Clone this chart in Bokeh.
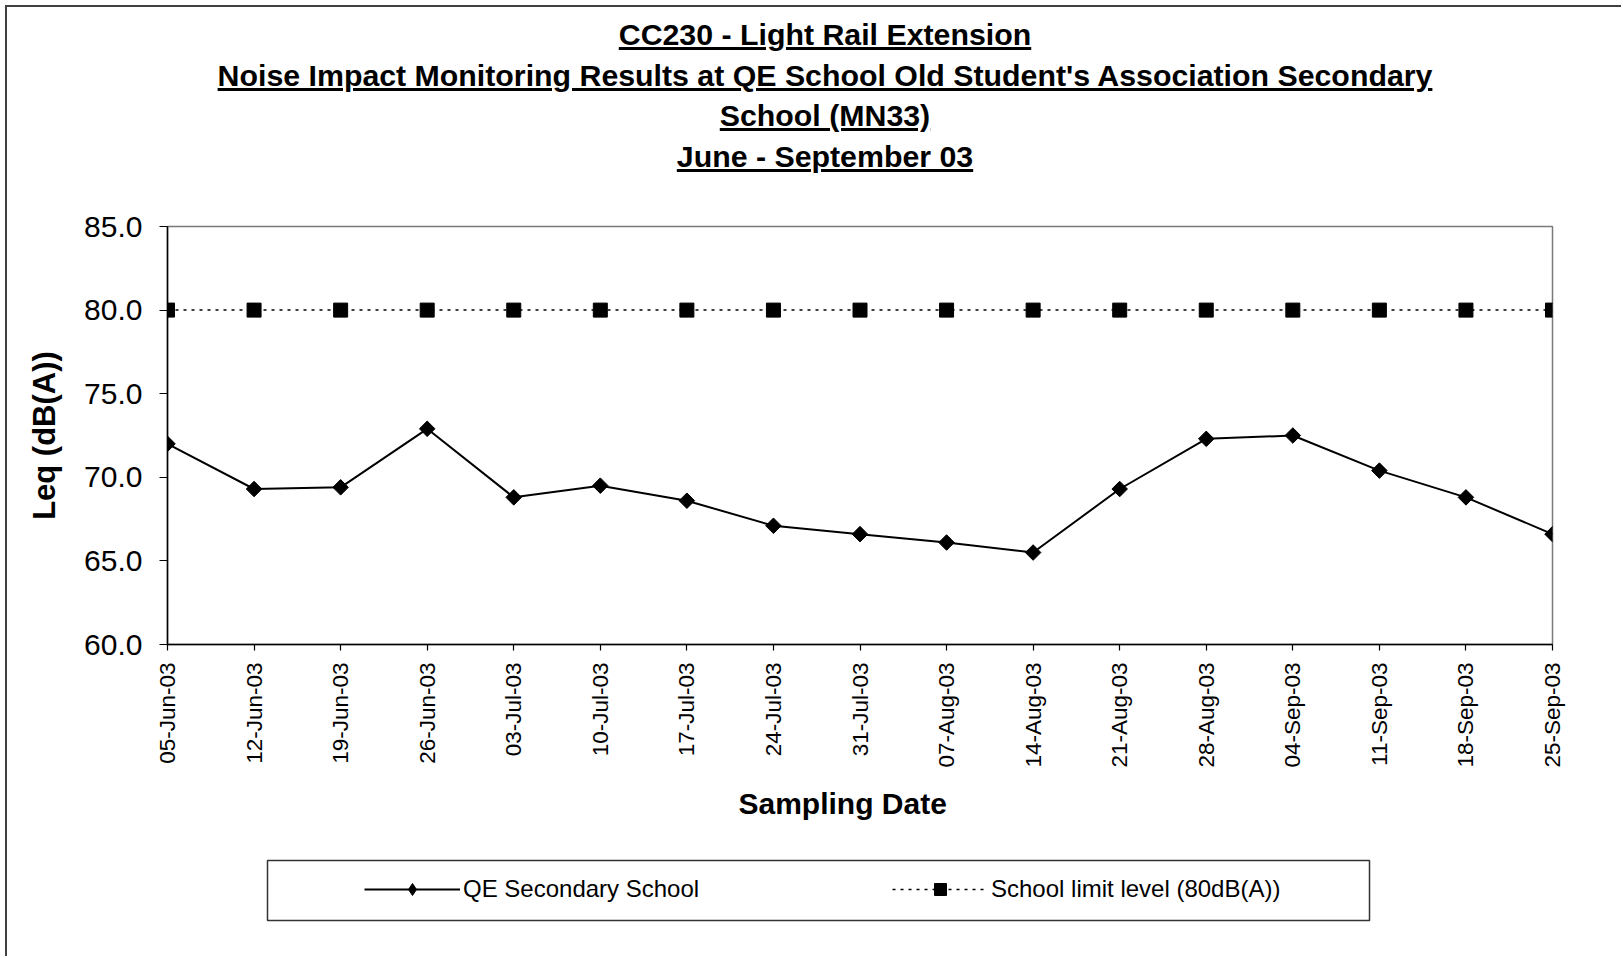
from math import pi
from html import escape
from bokeh.plotting import figure
from bokeh.layouts import column, row
from bokeh.models import (Range1d, FixedTicker, PrintfTickFormatter, Title, Div,
                          Legend, LegendItem, ColumnDataSource, BoxAnnotation)
from bokeh.embed import file_html
from bokeh.resources import INLINE

# ---------------- data ----------------
dates = ["05-Jun-03", "12-Jun-03", "19-Jun-03", "26-Jun-03", "03-Jul-03",
         "10-Jul-03", "17-Jul-03", "24-Jul-03", "31-Jul-03", "07-Aug-03",
         "14-Aug-03", "21-Aug-03", "28-Aug-03", "04-Sep-03", "11-Sep-03",
         "18-Sep-03", "25-Sep-03"]
qe_levels = [72.0, 69.3, 69.4, 72.9, 68.8, 69.5, 68.6, 67.1, 66.6,
             66.1, 65.5, 69.3, 72.3, 72.5, 70.4, 68.8, 66.6]
limit_levels = [80.0, 80.0, 80.0, 80.0, 80.0, 80.0, 80.0, 80.0, 80.0,
                80.0, 80.0, 80.0, 80.0, 80.0, 80.0, 80.0, 80.0]
y_ticks = [60, 65, 70, 75, 80, 85]
title_lines = ["CC230 - Light Rail Extension",
               "Noise Impact Monitoring Results at QE School Old Student's Association Secondary",
               "School (MN33)",
               "June - September 03"]
series_names = ["QE Secondary School", "School limit level (80dB(A))"]
x_title = "Sampling Date"
y_title = "Leq (dB(A))"

FONT = "Liberation Sans"
FIG_W = 1614
TITLE_H = 193
MAIN_H = 646
LEG_H = 110
BORDER = "#404040"

# ---------------- title block (underlined) ----------------
u_style = "text-decoration:underline;text-decoration-thickness:2.5px;text-underline-offset:1.5px"
title_html = "<br>".join(f'<span style="{u_style}">{escape(t, quote=False)}</span>'
                         for t in title_lines)
title_div = Div(
    text=(f'<div style="box-sizing:border-box;width:{FIG_W}px;padding:8px 0 0 22px;'
          f"text-align:center;font-family:'Liberation Sans',Arial,sans-serif;"
          f'font-weight:bold;font-size:30.3px;line-height:40.7px;color:#000;white-space:nowrap">'
          f'{title_html}</div>'),
    width=FIG_W, height=TITLE_H, margin=0)

# ---------------- main figure ----------------
p = figure(width=FIG_W, height=MAIN_H, output_backend="svg", toolbar_location=None,
           x_range=Range1d(0, len(dates) - 1), y_range=Range1d(y_ticks[0], y_ticks[-1]),
           min_border_left=160, min_border_right=69, min_border_top=26,
           min_border_bottom=202, background_fill_color="white",
           border_fill_color="white", outline_line_color="#7a7a7a",
           outline_line_width=1.5)
p.title.text = ""
p.grid.visible = False

xa = p.xaxis[0]
xa.ticker = FixedTicker(ticks=list(range(len(dates))))
xa.major_label_overrides = {i: d for i, d in enumerate(dates)}
xa.major_label_orientation = pi / 2
xa.major_label_text_font = FONT
xa.major_label_text_font_size = "22.5px"
xa.major_label_text_color = "black"
xa.major_label_standoff = 12
xa.major_tick_in = 0
xa.major_tick_out = 6
xa.minor_tick_line_color = None
xa.axis_line_color = "black"
xa.axis_line_width = 1.5
xa.major_tick_line_width = 1.2

ya = p.yaxis[0]
ya.ticker = FixedTicker(ticks=y_ticks)
ya.formatter = PrintfTickFormatter(format="%.1f")
ya.major_label_text_font = FONT
ya.major_label_text_font_size = "30px"
ya.major_label_text_color = "black"
ya.major_label_standoff = 17
ya.major_tick_in = 0
ya.major_tick_out = 8
ya.minor_tick_line_color = None
ya.axis_line_color = "black"
ya.axis_line_width = 1.5
ya.major_tick_line_width = 1.2
ya.axis_label = y_title
ya.axis_label_text_font = FONT
ya.axis_label_text_font_size = "31px"
ya.axis_label_text_font_style = "bold"
ya.axis_label_text_color = "black"
ya.axis_label_standoff = 19

QE_LINE = dict(line_color="black", line_width=2)
QE_MARK = dict(marker="square", angle=pi / 4, size=11, fill_color="black", line_color="black")
QE_KEY_MARK = dict(marker="diamond", size=20, fill_color="black", line_color="black")
LIM_LINE = dict(line_color="black", line_width=1.5, line_dash="3 5")
LIM_MARK = dict(marker="square", size=14, fill_color="black", line_color="black")

src = ColumnDataSource(dict(x=list(range(len(dates))), qe=qe_levels, limit=limit_levels))
p.line("x", "limit", source=src, **LIM_LINE)
p.scatter("x", "limit", source=src, **LIM_MARK)
p.line("x", "qe", source=src, **QE_LINE)
p.scatter("x", "qe", source=src, **QE_MARK)

# x-axis title (below the tick labels)
p.add_layout(Title(text=x_title, align="left", offset=571, vertical_align="top",
                   standoff=33, text_font=FONT, text_font_size="30px",
                   text_font_style="bold", text_color="black"), "below")

# ---------------- legend strip (frame aligned with the chart's frame) ----------------
# the key renderers reuse the series data; this strip's y-range lies outside it,
# so only the legend keys themselves are visible here
lf = figure(width=FIG_W, height=LEG_H, output_backend="svg", toolbar_location=None,
            x_axis_type=None, y_axis_type=None, min_border=0,
            x_range=Range1d(0, len(dates) - 1), y_range=Range1d(0, 1),
            outline_line_color=None, background_fill_color="white",
            border_fill_color="white")
lf.title.text = ""
lf.grid.visible = False
k_qe_l = lf.line("x", "qe", source=src, **QE_LINE)
k_qe_m = lf.scatter("x", "qe", source=src, **QE_KEY_MARK)
k_li_l = lf.line("x", "limit", source=src, **LIM_LINE)
k_li_m = lf.scatter("x", "limit", source=src, **LIM_MARK)

# legend frame
lf.add_layout(BoxAnnotation(left=100, right=1202, bottom=36, top=96,
                            left_units="screen", right_units="screen",
                            bottom_units="screen", top_units="screen",
                            fill_alpha=0, line_color="#333333", line_width=1.5,
                            line_alpha=1))
legend = Legend(items=[LegendItem(label=series_names[0], renderers=[k_qe_l, k_qe_m]),
                       LegendItem(label=series_names[1], renderers=[k_li_l, k_li_m])],
                orientation="horizontal", location=(182, 37), margin=0, padding=15,
                spacing=66, glyph_width=96, glyph_height=30, label_height=30,
                label_width=363, label_standoff=3, label_text_font=FONT,
                label_text_font_size="24px", label_text_color="black",
                label_text_baseline="middle",
                border_line_alpha=0, background_fill_alpha=0)
lf.add_layout(legend)

# ---------------- chart border (top/left edges) + layout ----------------
left_edge = Div(text="", width=2, height=2 + TITLE_H + MAIN_H + LEG_H, margin=0,
                styles={"background-color": BORDER})
top_edge = Div(text="", width=FIG_W, height=2, margin=0,
               styles={"background-color": BORDER})
layout = row(left_edge, column(top_edge, title_div, p, lf, spacing=0),
             spacing=0, margin=(5, 0, 0, 5))

open("out.html", "w").write(file_html(layout, INLINE))
